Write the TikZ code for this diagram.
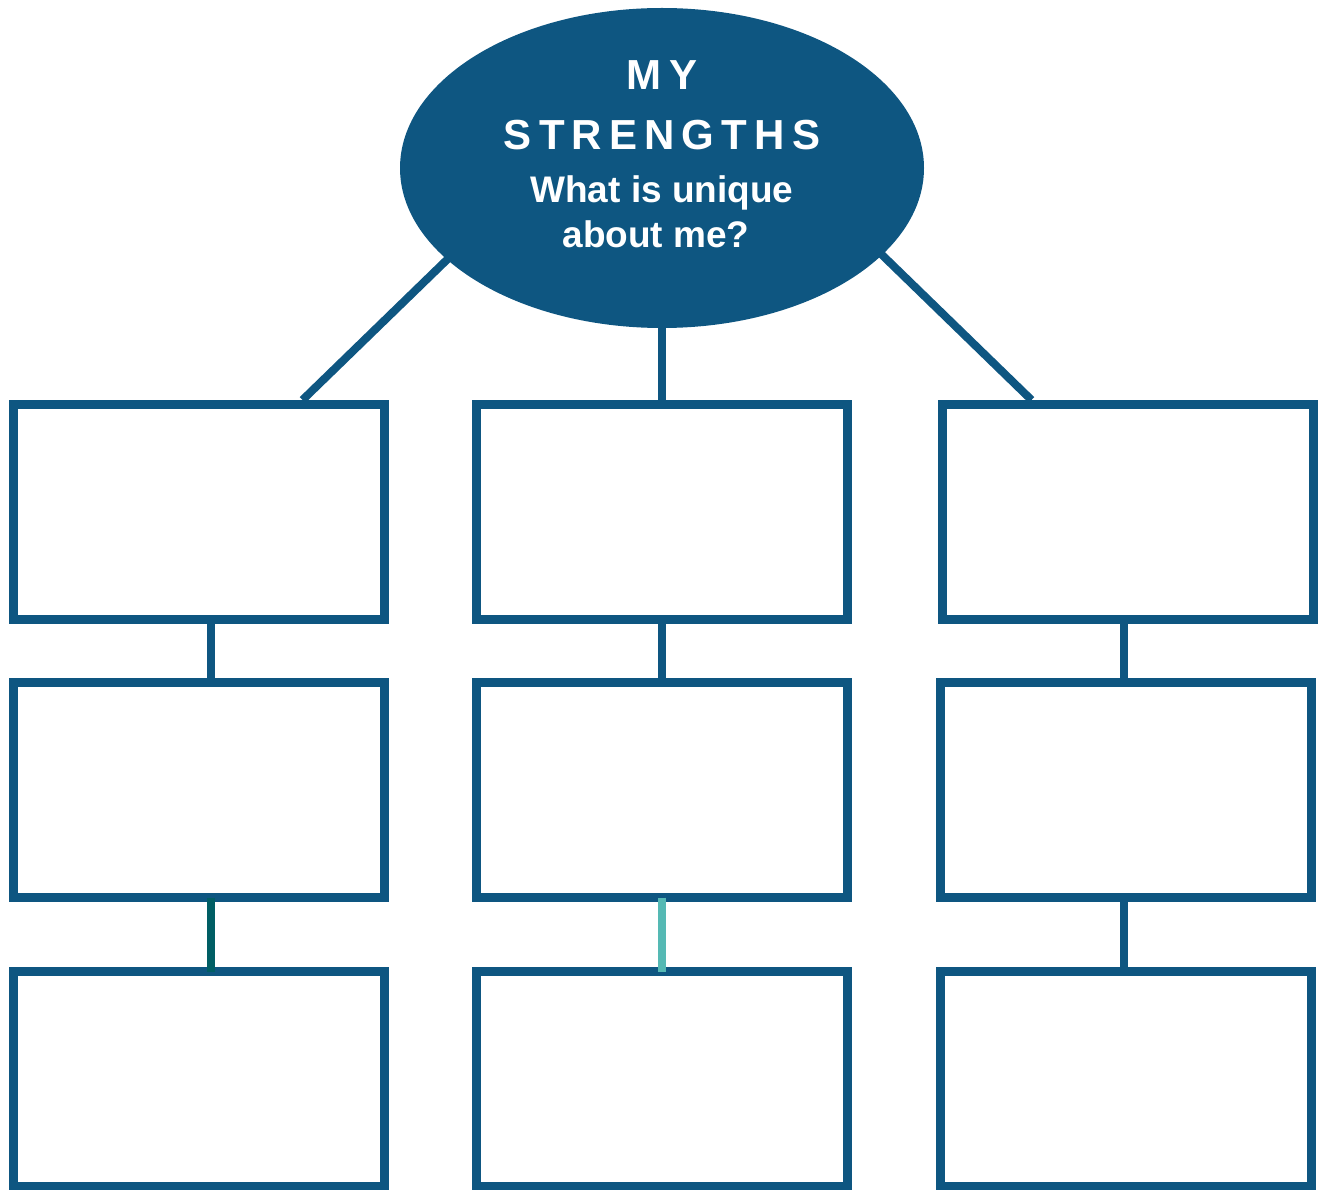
\documentclass[tikz,border=0pt]{standalone}
\usepackage{fontspec}
\setmainfont{Liberation Sans}
\newfontfamily\spacedfont{Liberation Sans}[LetterSpace=17]
\usetikzlibrary{shapes.geometric}
\definecolor{navy}{HTML}{0E5681}
\definecolor{darkteal}{HTML}{005E64}
\definecolor{lightteal}{HTML}{55B9B4}
\tikzset{
  box/.style={draw=navy, line width=9pt, fill=white, minimum width=371pt, minimum height=215pt, inner sep=0pt},
  conn/.style={draw=navy, line width=8pt},
  vconn/.style={line width=8pt, shorten <=-4.5pt, shorten >=-4.5pt},
  title/.style={text=white, font=\spacedfont\bfseries\fontsize{42}{42}\selectfont, anchor=base, inner sep=0pt},
  sub/.style={text=white, font=\bfseries\fontsize{37}{37}\selectfont, anchor=base, inner sep=0pt}
}
\begin{document}
\begin{tikzpicture}[x=1pt,y=-1pt]
\useasboundingbox (0,0) rectangle (1318,1190);
% ellipse centre
\coordinate (ec) at (662,168);
% boxes
\node[box] (b11) at (199,512) {};
\node[box] (b12) at (661.5,512) {};
\node[box] (b13) at (1128,512) {};
\node[box] (b21) at (199,790) {};
\node[box] (b22) at (661.5,790) {};
\node[box] (b23) at (1126,790) {};
\node[box] (b31) at (199,1079) {};
\node[box] (b32) at (661.5,1079) {};
\node[box] (b33) at (1126,1079) {};
% lines from ellipse to top boxes
\coordinate (lin) at (457,250);
\coordinate (rin) at (877,250);
\draw[conn] ([xshift=103.5pt]b11.north) -- (lin);
\draw[conn] ([xshift=-96.5pt]b13.north) -- (rin);
\draw[conn] ([xshift=0.5pt]b12.north) -- (ec);
% ellipse
\node[ellipse, fill=navy, minimum width=524pt, minimum height=320pt, inner sep=0pt] (ell) at (ec) {};
% vertical connectors row1-row2
\draw[conn, vconn] ([xshift=12pt]b11.south) -- ([xshift=12pt]b21.north);
\draw[conn, vconn] ([xshift=0.5pt]b12.south) -- ([xshift=0.5pt]b22.north);
\draw[conn, vconn] ([xshift=-4pt]b13.south) -- ([xshift=-2pt]b23.north);
% vertical connectors row2-row3
\draw[vconn, draw=darkteal] ([xshift=12pt]b21.south) -- ([xshift=12pt]b31.north);
\draw[vconn, draw=lightteal] ([xshift=0.5pt]b22.south) -- ([xshift=0.5pt]b32.north);
\draw[conn, vconn] ([xshift=-2pt]b23.south) -- ([xshift=-2pt]b33.north);
% text
\node[title] (t1) at (662,90) {MY};
\node[title] (t2) at (662,150) {STRENGTHS};
\node[sub] (t3) at (662,203) {What is unique};
\node[sub] (t4) at (656,248) {about me?};
\end{tikzpicture}
\end{document}
